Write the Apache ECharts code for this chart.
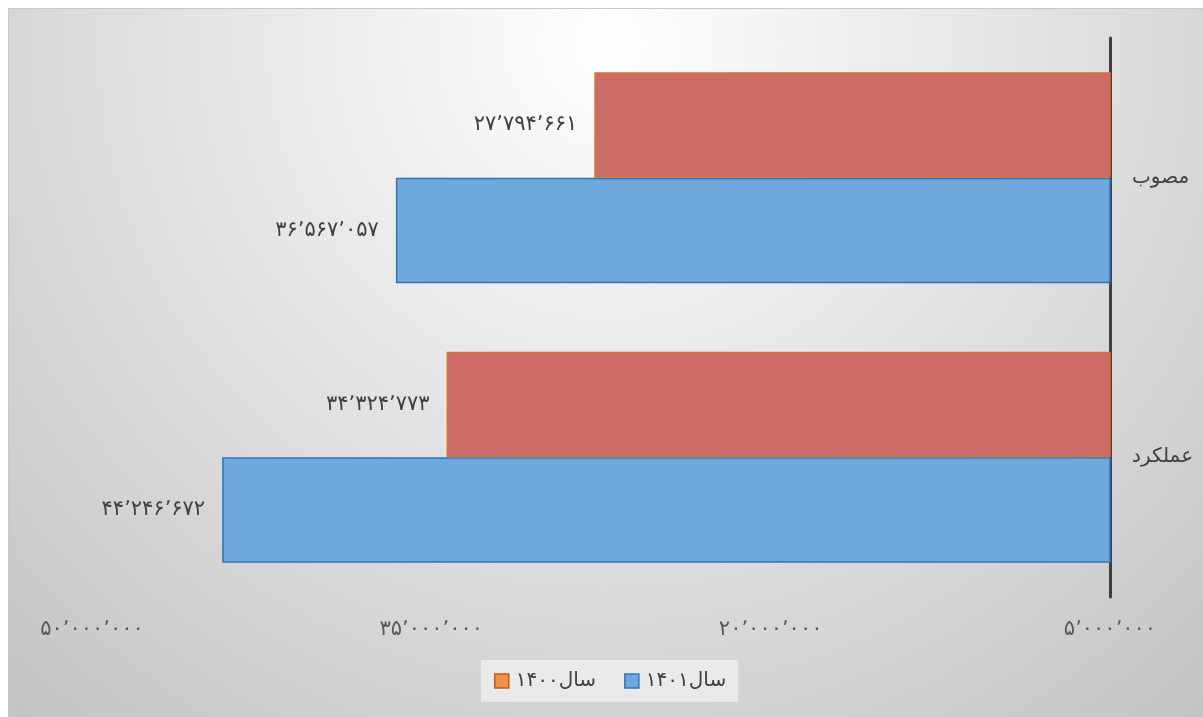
<!DOCTYPE html>
<html><head><meta charset="utf-8">
<script src="https://cdn.jsdelivr.net/npm/echarts@6/dist/echarts.min.js"></script>
<style>html,body{margin:0;padding:0;background:#fff}#c{width:1203px;height:717px}</style>
</head><body><div id="c"></div>
<script>
const categories = ['مصوب', 'عملکرد'];
const seriesNames = ['سال۱۴۰۰', 'سال۱۴۰۱'];
const values1400 = [27794661, 34324773];
const values1401 = [36567057, 44246672];
const tickValues = [5000000, 20000000, 35000000, 50000000];

function fa(n) {
  const d = '۰۱۲۳۴۵۶۷۸۹';
  return String(Math.round(n)).replace(/\B(?=(\d{3})+(?!\d))/g, '٬').replace(/\d/g, c => d[c]);
}
const FONT = 'DejaVu Sans';
const chart = echarts.init(document.getElementById('c'));
chart.setOption({
  animation: false,
  textStyle: { fontFamily: FONT },
  graphic: {
    elements: [{
      type: 'rect', z: -100, silent: true,
      shape: { x: 8.5, y: 8.5, width: 1200, height: 712 },
      style: {
        fill: new echarts.graphic.RadialGradient(0.5, 0.05, 1.25, [
          { offset: 0, color: '#ffffff' },
          { offset: 1, color: '#c4c4c4' }
        ]),
        stroke: '#c8c8c8', lineWidth: 1
      }
    }]
  },
  grid: { left: 92, right: 93, top: 38, bottom: 120, containLabel: false },
  legend: {
    left: 481, top: 660,
    padding: [11, 12, 11, 13],
    backgroundColor: 'rgba(240,240,240,0.75)',
    itemWidth: 14, itemHeight: 14, itemGap: 28,
    icon: 'rect',
    textStyle: { fontSize: 20, color: '#404040', fontFamily: FONT, padding: [0, 0, 0, 2] },
    data: [
      { name: seriesNames[0], itemStyle: { color: '#F0904F', borderColor: '#C55A11', borderWidth: 1.5 } },
      { name: seriesNames[1], itemStyle: { color: '#6FA8DC', borderColor: '#2F75B5', borderWidth: 1.5 } }
    ]
  },
  xAxis: {
    type: 'value', inverse: true, min: 5000000, max: 50000000,
    splitLine: { show: false }, axisLine: { show: false }, axisTick: { show: false },
    axisLabel: {
      customValues: tickValues, margin: 22, fontSize: 21, color: '#595959', fontFamily: FONT,
      formatter: v => fa(v)
    }
  },
  yAxis: {
    type: 'category', position: 'right', inverse: true, data: categories,
    axisLine: { show: true, lineStyle: { color: '#404040', width: 3 } },
    axisTick: { show: false },
    axisLabel: { margin: 22, fontSize: 20, color: '#404040', fontFamily: FONT }
  },
  series: [
    {
      name: seriesNames[0], type: 'bar', data: values1400,
      barGap: '0%', barCategoryGap: '24.5%',
      itemStyle: { color: '#CC6B68', borderColor: '#DA6F2B', borderWidth: 1.5 },
      label: { show: true, position: 'left', distance: 17, fontSize: 21, color: '#404040', fontFamily: FONT, formatter: p => fa(p.value) }
    },
    {
      name: seriesNames[1], type: 'bar', data: values1401,
      barGap: '0%', barCategoryGap: '24.5%',
      itemStyle: { color: '#6FA8DC', borderColor: '#2F75B5', borderWidth: 1.5 },
      label: { show: true, position: 'left', distance: 17, fontSize: 21, color: '#404040', fontFamily: FONT, formatter: p => fa(p.value) }
    }
  ]
});
</script></body></html>
